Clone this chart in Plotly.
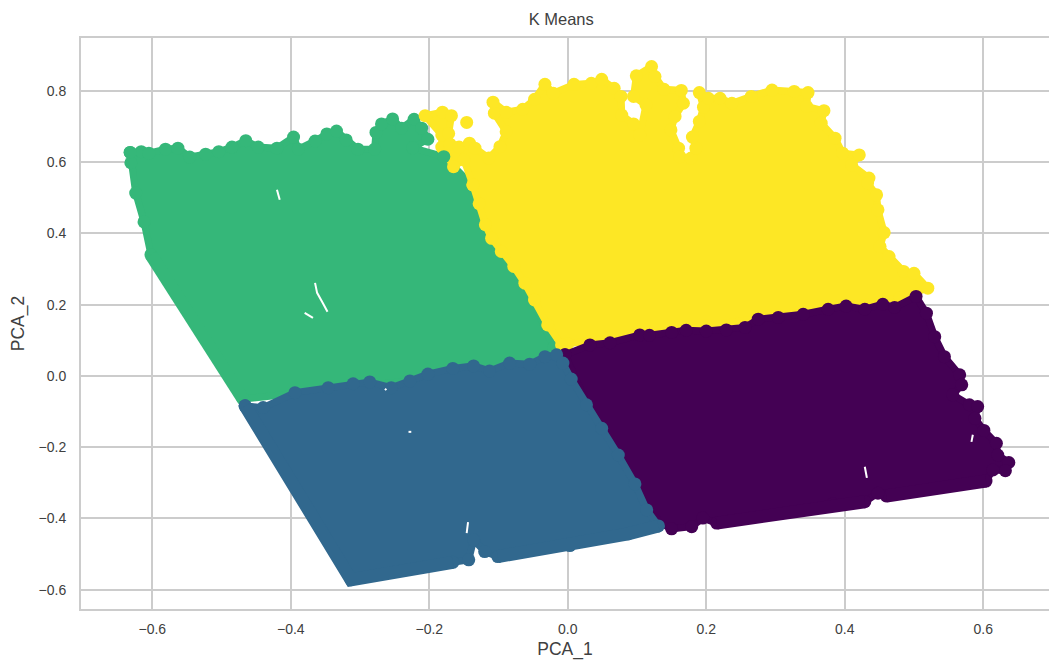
import plotly.graph_objects as go

# Cluster outlines (PCA_1, PCA_2) - points on the edge of each cluster
green_x = [-0.632,-0.616,-0.605,-0.581,-0.563,-0.546,-0.523,-0.504,-0.485,-0.465,-0.447,-0.420,-0.396,-0.389,-0.365,-0.348,-0.334,-0.320,-0.303,-0.279,-0.277,-0.269,-0.253,-0.240,-0.222,-0.211,-0.202,-0.224,-0.179,-0.120,-0.020,-0.020,-0.469,-0.602,-0.612,-0.624,-0.631]
green_y = [0.627,0.629,0.625,0.636,0.639,0.614,0.622,0.629,0.642,0.660,0.642,0.639,0.670,0.636,0.659,0.679,0.687,0.662,0.636,0.636,0.683,0.707,0.721,0.695,0.720,0.695,0.664,0.640,0.615,0.500,0.080,0.030,-0.065,0.340,0.432,0.513,0.598]
green_edge_x = [-0.602,-0.469]
green_edge_y = [0.340,-0.065]

yellow_x = [-0.137,-0.150,-0.165,-0.182,-0.182,-0.206,-0.181,-0.168,-0.172,-0.170,-0.157,-0.142,-0.134,-0.114,-0.098,-0.089,-0.106,-0.108,-0.089,-0.065,-0.048,-0.033,-0.021,0.009,0.034,0.049,0.067,0.077,0.078,0.095,0.104,0.113,0.095,0.099,0.121,0.126,0.139,0.164,0.167,0.155,0.149,0.160,0.162,0.178,0.185,0.180,0.190,0.196,0.190,0.203,0.220,0.237,0.265,0.295,0.327,0.347,0.345,0.370,0.366,0.386,0.397,0.421,0.410,0.435,0.433,0.446,0.448,0.457,0.451,0.464,0.485,0.500,0.520,0.480,0.200,0.000,-0.009,-0.029,-0.048,-0.062,-0.078,-0.096,-0.110,-0.119,-0.128]
yellow_y = [0.536,0.606,0.587,0.642,0.676,0.730,0.740,0.730,0.680,0.650,0.642,0.653,0.639,0.611,0.643,0.685,0.737,0.768,0.740,0.748,0.776,0.818,0.793,0.818,0.821,0.832,0.807,0.784,0.732,0.707,0.676,0.760,0.784,0.842,0.868,0.840,0.804,0.801,0.765,0.728,0.690,0.639,0.615,0.611,0.639,0.670,0.714,0.754,0.795,0.779,0.779,0.765,0.784,0.802,0.798,0.795,0.756,0.744,0.709,0.667,0.625,0.620,0.592,0.555,0.541,0.508,0.466,0.402,0.363,0.335,0.293,0.288,0.246,0.220,0.140,0.090,0.087,0.143,0.213,0.260,0.307,0.349,0.386,0.424,0.483]
yellow_single_x = [-0.146]
yellow_single_y = [0.711]

purple_x = [-0.004,0.032,0.061,0.104,0.118,0.150,0.171,0.200,0.229,0.256,0.275,0.304,0.340,0.376,0.402,0.429,0.455,0.472,0.503,0.518,0.530,0.544,0.566,0.569,0.556,0.580,0.592,0.588,0.601,0.619,0.621,0.637,0.632,0.614,0.604,0.460,0.448,0.429,0.383,0.215,0.195,0.179,0.150,0.125,0.095,0.080,0.070]
purple_y = [0.059,0.087,0.093,0.115,0.114,0.122,0.128,0.126,0.129,0.136,0.159,0.164,0.173,0.187,0.196,0.187,0.201,0.192,0.223,0.176,0.110,0.054,0.003,-0.025,-0.053,-0.081,-0.086,-0.119,-0.153,-0.189,-0.222,-0.243,-0.266,-0.264,-0.295,-0.337,-0.329,-0.353,-0.359,-0.413,-0.399,-0.423,-0.429,-0.404,-0.339,-0.303,-0.264]
purple_edge_x = [0.215,0.383,0.429,None,0.460,0.604]
purple_edge_y = [-0.413,-0.359,-0.353,None,-0.337,-0.295]

blue_x = [-0.466,-0.440,-0.394,-0.346,-0.310,-0.286,-0.255,-0.228,-0.202,-0.166,-0.136,-0.113,-0.084,-0.055,-0.033,-0.016,-0.007,0.005,0.027,0.049,0.073,0.097,0.114,0.131,0.087,0.003,-0.101,-0.120,-0.136,-0.143,-0.166,-0.313]
blue_y = [-0.084,-0.089,-0.047,-0.033,-0.022,-0.017,-0.033,-0.014,0.005,0.021,0.028,0.014,0.036,0.033,0.054,0.059,0.036,-0.009,-0.081,-0.147,-0.222,-0.303,-0.376,-0.421,-0.443,-0.476,-0.507,-0.493,-0.460,-0.516,-0.523,-0.572]
blue_edge_x = [-0.466,-0.313,-0.166,None,-0.101,0.003,0.087,0.131]
blue_edge_y = [-0.084,-0.572,-0.523,None,-0.507,-0.476,-0.443,-0.421]

green_front_x = [-0.179]
green_front_y = [0.615]

# Small uncovered slivers inside the clusters
gap_x = [-0.365,-0.362,-0.354,-0.347,None,-0.380,-0.368,None,-0.420,-0.416,None,0.429,0.432,None,0.585,0.583,None,-0.144,-0.146,None,-0.264,-0.262,None,-0.230,-0.226]
gap_y = [0.261,0.233,0.205,0.180,None,0.177,0.163,None,0.522,0.494,None,-0.255,-0.286,None,-0.165,-0.185,None,-0.410,-0.441,None,-0.036,-0.040,None,-0.157,-0.157]

title = "K Means"
x_label = "PCA_1"
y_label = "PCA_2"
x_ticks = [-0.6,-0.4,-0.2,0.0,0.2,0.4,0.6]
y_ticks = [-0.6,-0.4,-0.2,0.0,0.2,0.4,0.6,0.8]

GREEN, YELLOW, PURPLE, BLUE = "#35b779", "#fde725", "#440154", "#31688e"
MSIZE = 13
LW = 7

def blob(x, y, color):
    return go.Scatter(x=x + x[:1], y=y + y[:1], mode="lines+markers", fill="toself",
                      fillcolor=color, line=dict(color=color, width=LW),
                      marker=dict(color=color, size=MSIZE), hoverinfo="skip", showlegend=False)

def dots(x, y, color):
    return go.Scatter(x=x, y=y, mode="markers", marker=dict(color=color, size=MSIZE),
                      hoverinfo="skip", showlegend=False)

def edge(x, y, color, width=MSIZE):
    return go.Scatter(x=x, y=y, mode="lines", line=dict(color=color, width=width),
                      hoverinfo="skip", showlegend=False)

fig = go.Figure([
    blob(green_x, green_y, GREEN),
    edge(green_edge_x, green_edge_y, GREEN),
    blob(yellow_x, yellow_y, YELLOW),
    dots(yellow_single_x, yellow_single_y, YELLOW),
    blob(purple_x, purple_y, PURPLE),
    edge(purple_edge_x, purple_edge_y, PURPLE),
    blob(blue_x, blue_y, BLUE),
    edge(blue_edge_x, blue_edge_y, BLUE),
    dots(green_front_x, green_front_y, GREEN),
    edge(gap_x, gap_y, "white", 2),
])

text_font = dict(family="Liberation Sans", color="#404040")
axis_common = dict(showgrid=True, gridcolor="#cccccc", gridwidth=1.5, showline=True,
                   linecolor="#cccccc", linewidth=2, mirror=True, zeroline=False, automargin=False,
                   ticks="", tickformat=".1f", tickfont=dict(size=14, **text_font))
fig.update_layout(
    width=1049, height=660, autosize=False,
    margin=dict(l=81, r=0, t=38, b=51),
    paper_bgcolor="white", plot_bgcolor="white",
    title=dict(text=title, x=0.535, xanchor="center", y=0.9705, yanchor="middle",
               font=dict(size=16.5, **text_font)),
    xaxis=dict(range=[-0.703, 0.695], tickvals=x_ticks, ticklabelstandoff=6,
               title=dict(text=x_label, standoff=17, font=dict(size=17.5, **text_font)),
               **axis_common),
    yaxis=dict(range=[-0.654, 0.948], tickvals=y_ticks, ticklabelstandoff=10,
               title=dict(text=y_label, standoff=9, font=dict(size=17.5, **text_font)),
               **axis_common),
)
fig.write_html("out.html", config=dict(displayModeBar=False),
               post_script="document.body.style.margin='0';document.documentElement.style.overflow='hidden';")
